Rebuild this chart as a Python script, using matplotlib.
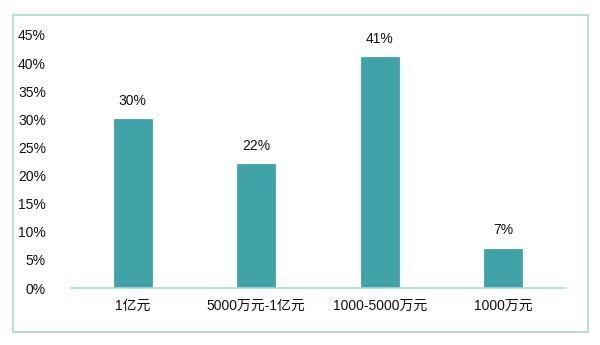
import matplotlib
matplotlib.use("Agg")
import matplotlib.pyplot as plt
from matplotlib.patches import Rectangle
from matplotlib.ticker import FuncFormatter

categories = ["1亿元", "5000万元-1亿元", "1000-5000万元", "1000万元"]
values = [30, 22, 41, 7]
yticks = [0, 5, 10, 15, 20, 25, 30, 35, 40, 45]

plt.rcParams['font.family'] = ['Liberation Sans', 'Noto Sans CJK SC', 'DejaVu Sans']

fig = plt.figure(figsize=(6, 3.45), dpi=100)
fig.patch.set_facecolor("white")

# outer border
fig.patches.append(Rectangle((13/600, 1-332/345), 575/600, 317/345,
                             transform=fig.transFigure, fill=False,
                             edgecolor="#a9dccf", linewidth=1.2))

ax = fig.add_axes([71/600, 1-288/345, 494/600, 253/345])
bar_color = "#3fa3a8"
x = range(len(categories))
ax.bar(x, values, width=0.31, color=bar_color, edgecolor="#379a9f", linewidth=0.5)
for xi, v in zip(x, values):
    ax.text(xi, v + 2.0, f"{v}%", ha="center", va="bottom", fontsize=10, color="#111111", clip_on=False)

ax.set_xlim(-0.5, len(categories) - 0.5)
ax.set_ylim(0, 45)
ax.set_yticks(yticks)
ax.yaxis.set_major_formatter(FuncFormatter(lambda v, p: f"{int(v)}%"))
ax.set_xticks(list(x))
ax.set_xticklabels(categories)
for s in ["top", "right", "left"]:
    ax.spines[s].set_visible(False)
ax.spines["bottom"].set_color("#a9dccf")
ax.spines["bottom"].set_linewidth(1.2)
ax.tick_params(axis="both", length=0, labelsize=10, colors="#111111")
ax.tick_params(axis="y", pad=18)
ax.tick_params(axis="x", pad=8)

fig.savefig("out.png", dpi=100)
